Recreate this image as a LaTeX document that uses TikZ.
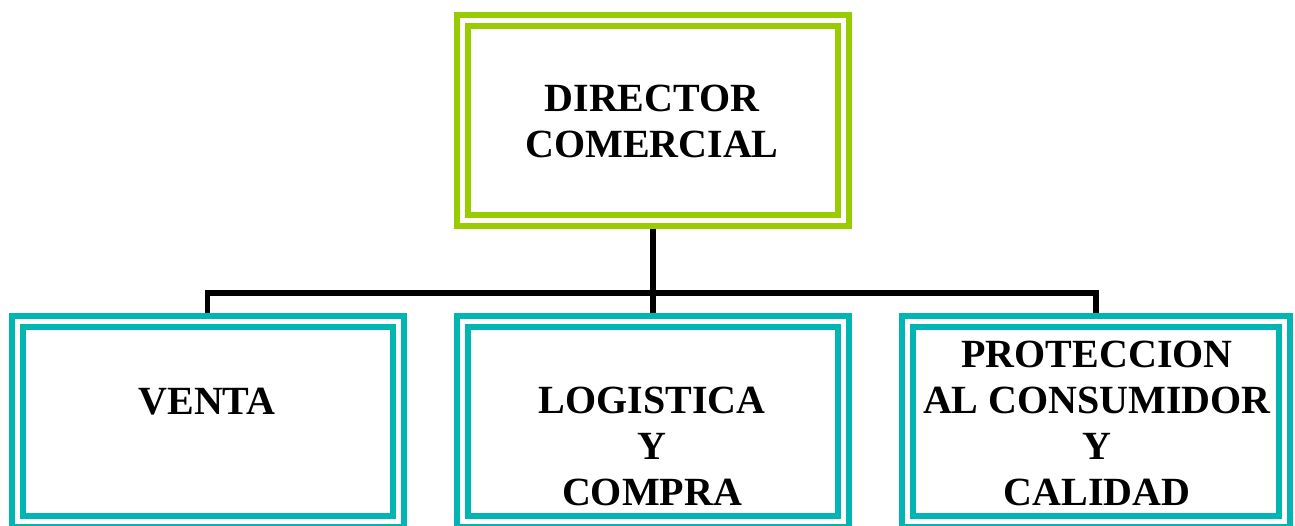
\documentclass[tikz,border=0pt]{standalone}
\usepackage{fontspec}
\setmainfont{Liberation Serif}
\usetikzlibrary{positioning,backgrounds}

\definecolor{limegreen}{RGB}{153,204,0}
\definecolor{tealline}{RGB}{0,181,178}

\begin{document}
\begin{tikzpicture}[
  x=0.75pt, y=-0.75pt,
  box/.style={rectangle, draw, line width=4.5pt, double=white, double distance=3.75pt,
    minimum height=150pt, outer sep=0pt, inner sep=0pt},
  headbox/.style={box, draw=limegreen, minimum width=285.75pt},
  unitbox/.style={box, draw=tealline, minimum width=285.75pt},
  txt/.style={anchor=base, align=center, inner sep=0pt,
    font=\fontsize{30}{34.5}\selectfont\bfseries},
  conn/.style={line width=4.2pt, black},
]
\useasboundingbox (0,0) rectangle (1295,525);

% === Boxes ===
\node[headbox] (dir) at (653,120.5) {};
\node[unitbox] (venta) at (207.5,421.5) {};
\node[unitbox] (logist) at (653,421.5) {};
\node[unitbox, minimum width=282.75pt] (prot) at (1096,421.5) {};

% === Texts (base = last line) ===
\node[txt] (dirtxt) at (652,157) {DIRECTOR\\COMERCIAL};
\node[txt] (ventatxt) at (207,414) {VENTA};
\node[txt] (logtxt) at (652,505) {LOGISTICA\\Y\\COMPRA};
\node[txt] (prottxt) at (1097,505) {PROTECCION\\AL CONSUMIDOR\\Y\\CALIDAD};

% === Connectors ===
\coordinate (bus) at (653,293);
\begin{scope}[on background layer]
  \draw[conn] (dir.south) -- (bus);
  \draw[conn] (venta.north) -- (venta.north |- bus) -| (prot.north);
  \draw[conn] (bus) -- (logist.north);
\end{scope}

\end{tikzpicture}
\end{document}
